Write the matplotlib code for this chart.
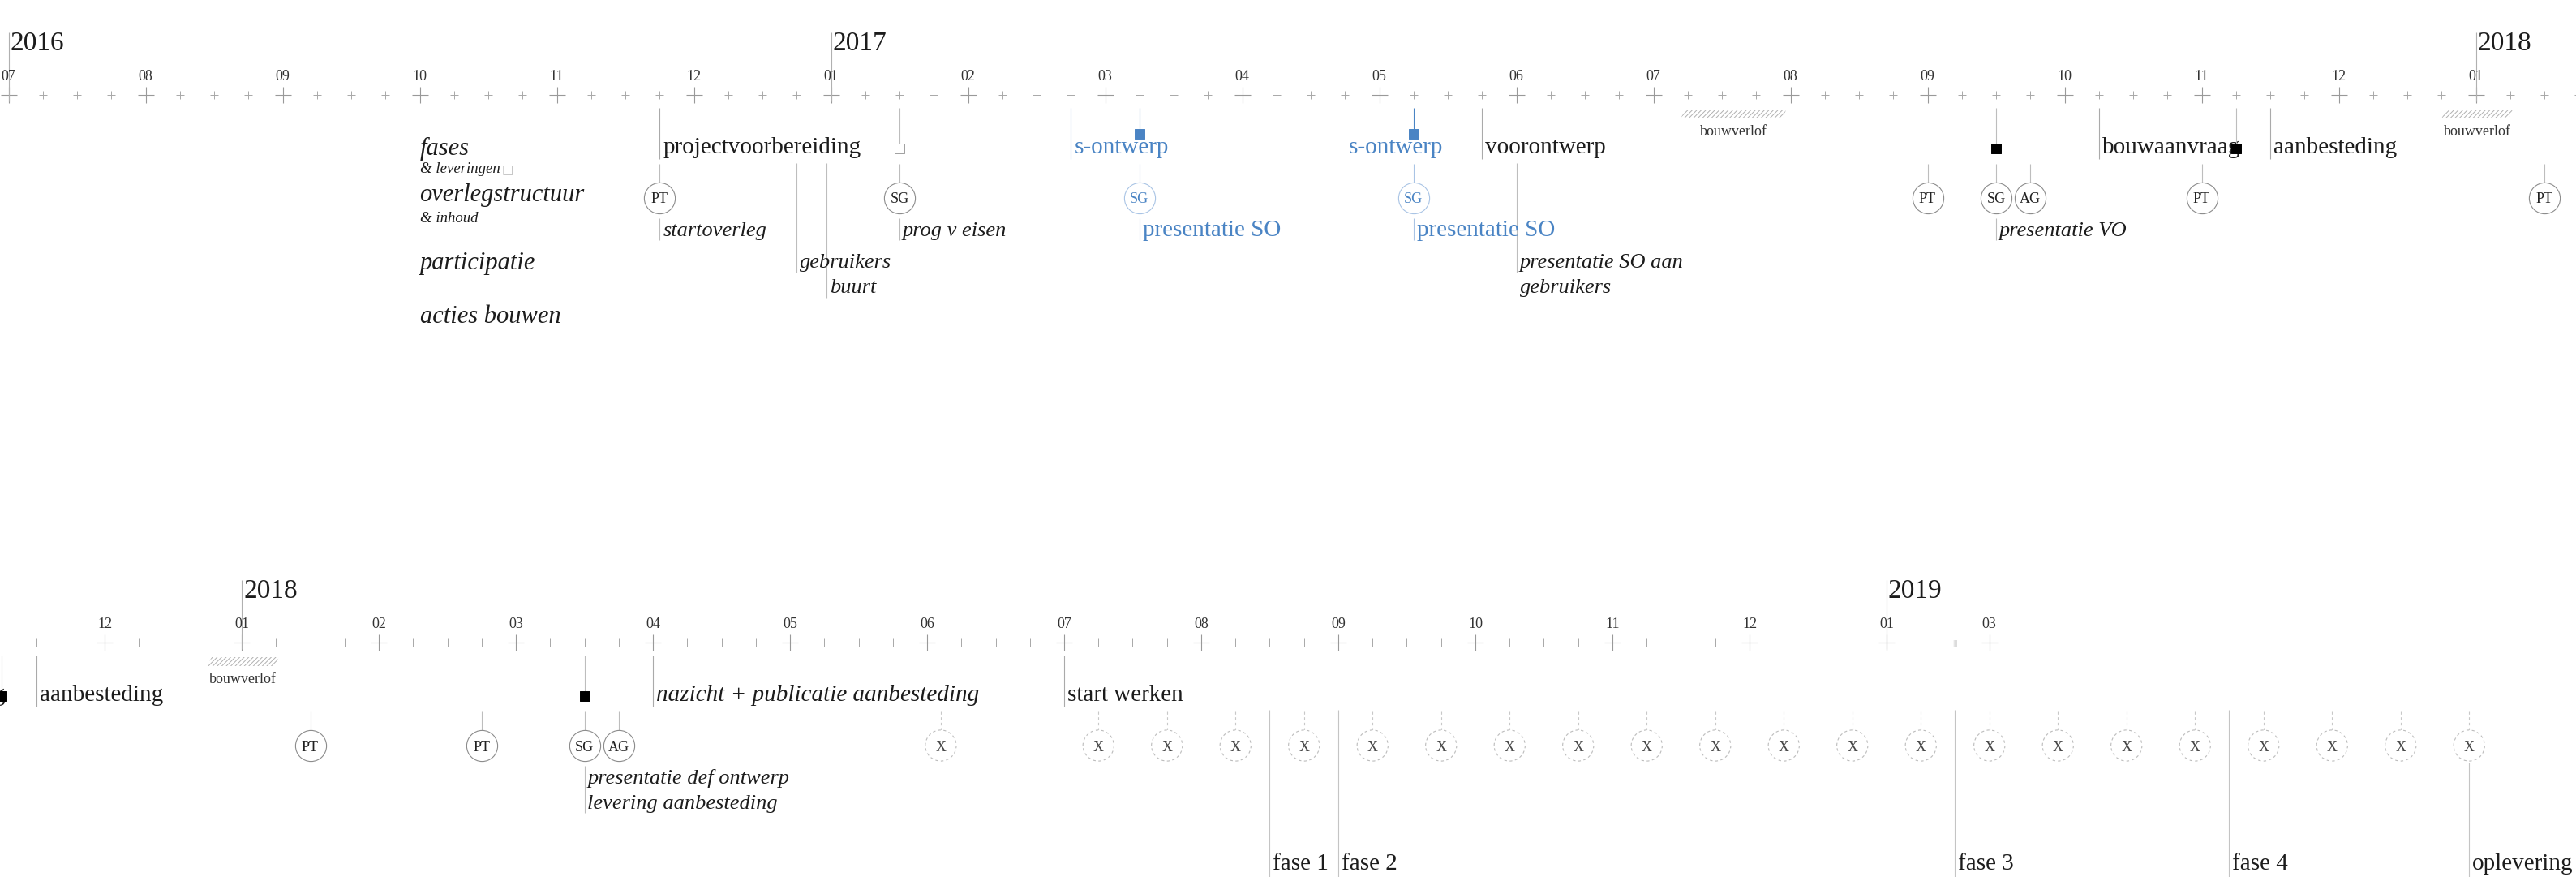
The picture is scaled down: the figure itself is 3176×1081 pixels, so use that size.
import matplotlib.pyplot as plt
from matplotlib.patches import Polygon

plt.rcParams['font.family'] = ['Liberation Serif', 'DejaVu Serif']
plt.rcParams['hatch.linewidth'] = 0.7

# position on the timeline in months, 0 = 2016-07 (0.25 = about one week)
month_pos = [0, 1, 2, 3, 4, 5, 6, 7, 8, 9, 10, 11, 12, 13, 14, 15, 16, 17, 18,
             19, 20, 21, 22, 23, 24, 25, 26, 27, 28, 29, 30, 30.75]
month_labels = ['07', '08', '09', '10', '11', '12',
                '01', '02', '03', '04', '05', '06', '07', '08', '09', '10', '11', '12',
                '01', '02', '03', '04', '05', '06', '07', '08', '09', '10', '11', '12',
                '01', '03']
year_pos = [0, 6, 18, 30]
years = ['2016', '2017', '2018', '2019']
axis_break = 30.5

categories = ['fases', 'overlegstructuur', 'participatie', 'acties bouwen']
category_sub = ['& leveringen', '& inhoud', '', '']
category_pos = 3

phase_pos = [4.75, 7.75, 9.75, 10.75, 15.25, 16.5, 21.0, 24.0]
phase_text = ['projectvoorbereiding', 's-ontwerp', 's-ontwerp', 'voorontwerp',
              'bouwaanvraag', 'aanbesteding', 'nazicht + publicatie aanbesteding',
              'start werken']
phase_group = ['', 'SO', 'SO-vervolg', '', '', '', 'extern', '']

deliv_pos = [6.5, 8.25, 10.25, 14.5, 16.25, 20.5]
deliv_group = ['open', 'SO', 'SO', '', '', '']

meet_pos = [4.75, 6.5, 8.25, 10.25, 14.0, 14.5, 14.75, 16.0, 18.5, 19.75, 20.5, 20.75]
meet_label = ['PT', 'SG', 'SG', 'SG', 'PT', 'SG', 'AG', 'PT', 'PT', 'PT', 'SG', 'AG']
meet_group = ['', '', 'SO', 'SO', '', '', '', '', '', '', '', '']

note_pos = [4.75, 6.5, 8.25, 10.25, 14.5, 20.5]
note_text = ['startoverleg', 'prog v eisen', 'presentatie SO', 'presentatie SO',
             'presentatie VO', 'presentatie def ontwerp\nlevering aanbesteding']
note_group = ['', '', 'SO', 'SO', '', '']

part_pos = [5.75, 5.97, 11.0]
part_text = ['gebruikers', 'buurt', 'presentatie SO aan\ngebruikers']
part_level = [0, 1, 0]

werf_pos = [23.1, 24.25, 24.75, 25.25, 25.75, 26.25, 26.75, 27.25, 27.75, 28.25, 28.75,
            29.25, 29.75, 30.25, 30.75, 31.25, 31.75, 32.25, 32.75, 33.25, 33.75, 34.25]

bouw_pos = [25.5, 26.0, 30.5, 32.5, 34.25]
bouw_text = ['fase 1', 'fase 2', 'fase 3', 'fase 4', 'oplevering']

verlof_start = [12.2, 17.75]
verlof_end = [12.97, 18.27]

# layout (pixels from the top of a row)
Y_YEAR, Y_MONTH, Y_TICK = 62, 99, 117
Y_TOP = 133
Y_PHASE = 189
Y_CIRCLE, R = 244, 19
Y_NOTE = 291
Y_PART = 330
LINE_H = 31
Y_BOUW = 397
BLUE = '#4a84c4'
LIGHTBLUE = '#a9c4e5'
LINE = '#bdbdbd'
INK = '#1c1c1c'


def label(ax, m, y, s, dx=4, **kw):
    kw.setdefault('color', INK)
    kw.setdefault('va', 'baseline')
    return ax.annotate(s, (m, y), xytext=(dx, 0), textcoords='offset pixels',
                       annotation_clip=False, **kw)


def vline(ax, m, y0, y1, color=LINE, **kw):
    ax.plot([m, m], [y0, y1], color=color, lw=0.8, solid_capstyle='butt', **kw)


def draw(ax):
    # time axis
    minor = [i / 4 for i in range(0, 122) if i % 4 and i / 4 != axis_break]
    ax.scatter(minor, [Y_TICK] * len(minor), marker='+', s=7 ** 2, c='#a8a8a8', linewidths=0.7)
    ax.scatter(month_pos, [Y_TICK] * len(month_pos), marker='+', s=15 ** 2, c='#999999', linewidths=0.8)
    for m, t in zip(month_pos, month_labels):
        label(ax, m, Y_MONTH, t, dx=0, ha='center', fontsize=13, color='#333333')
    label(ax, axis_break, Y_TICK + 4, '|||', dx=0, ha='center', fontsize=8, color='#bbbbbb')
    for m, t in zip(year_pos, years):
        vline(ax, m, 40, 125, color='#b0b0b0')
        label(ax, m, Y_YEAR, t, dx=2, fontsize=24)

    # left legend
    cat_y = [191, 248, 332, 398]
    for t, sub, y in zip(categories, category_sub, cat_y):
        label(ax, category_pos, y, t, dx=0, fontsize=22, style='italic')
        if sub:
            st = label(ax, category_pos, y + 22 if t == 'fases' else y + 26, sub, dx=0,
                       fontsize=13.5, style='italic')
            if t == 'fases':
                ax.annotate('\u25a1', (1, 0), xycoords=st, xytext=(2, 0), textcoords='offset points',
                            va='bottom', fontsize=11, color='#bdbdbd', family='DejaVu Sans')

    # bouwverlof
    sl = 5 / 169
    for a, b in zip(verlof_start, verlof_end):
        ax.add_patch(Polygon([(a, 146), (a + sl, 135), (b, 135), (b - sl, 146)], closed=True,
                             facecolor='white', edgecolor='#b0b0b0', lw=0, hatch='//////'))
        label(ax, (a + b) / 2, 167, 'bouwverlof', dx=0, ha='center', fontsize=13, color='#333333')

    # phases
    for m, t, g in zip(phase_pos, phase_text, phase_group):
        col = BLUE if g.startswith('SO') else INK
        if g != 'SO-vervolg':
            vline(ax, m, Y_TOP, 196, color='#8fb3df' if g == 'SO' else '#aaaaaa')
        label(ax, m, Y_PHASE, t, fontsize=21, color=col,
              style='italic' if g == 'extern' else 'normal', zorder=2)

    # deliverables
    for m, g in zip(deliv_pos, deliv_group):
        y = 165 if g == 'SO' else 183
        vline(ax, m, Y_TOP, y - 6, color=BLUE if g == 'SO' else LINE)
        fc = {'open': 'white', 'SO': BLUE}.get(g, 'black')
        ec = {'open': '#a0a0a0', 'SO': BLUE}.get(g, 'black')
        ax.scatter([m], [y], marker='s', s=9 ** 2, facecolors=fc, edgecolors=ec,
                   linewidths=0.7, zorder=4)

    # meetings
    for m, t, g in zip(meet_pos, meet_label, meet_group):
        lc = LIGHTBLUE if g else LINE
        vline(ax, m, 202, Y_CIRCLE - R, color=lc)
        ax.scatter([m], [Y_CIRCLE], s=27.5 ** 2, facecolors='white',
                   edgecolors=LIGHTBLUE if g else '#8c8c8c', linewidths=0.8, zorder=3)
        label(ax, m, Y_CIRCLE, t, dx=0, ha='center', va='center_baseline', fontsize=13,
              color=BLUE if g else '#222222', zorder=4)
    for m in werf_pos:
        vline(ax, m, 202, Y_CIRCLE - R, color='#c8c8c8', ls=(0, (3, 3)))
        ax.scatter([m], [Y_CIRCLE], s=27.5 ** 2, facecolors='white', edgecolors='#bcbcbc',
                   linewidths=0.8, linestyles=(0, (3, 3)), zorder=3)
        label(ax, m, Y_CIRCLE, 'X', dx=0, ha='center', va='center_baseline', fontsize=13,
              color='#444444', zorder=4)

    # notes under the meetings
    for m, t, g in zip(note_pos, note_text, note_group):
        rows = t.split('\n')
        vline(ax, m, 269, Y_NOTE + 5 + LINE_H * (len(rows) - 1), color=LIGHTBLUE if g else LINE)
        for i, r in enumerate(rows):
            if g:
                label(ax, m, Y_NOTE + LINE_H * i, r, fontsize=21, color=BLUE)
            else:
                label(ax, m, Y_NOTE + LINE_H * i, r, fontsize=19, style='italic')

    # participation
    for m, t, lv in zip(part_pos, part_text, part_level):
        vline(ax, m, 201, Y_PART + 6 + LINE_H * lv)
        for i, r in enumerate(t.split('\n')):
            label(ax, m, Y_PART + LINE_H * (lv + i), r, fontsize=19, style='italic')

    # building phases
    for m, t in zip(bouw_pos, bouw_text):
        start = Y_CIRCLE + R + 2 if t == 'oplevering' else 200
        vline(ax, m, start, 420, color='#c4c4c4')
        label(ax, m, Y_BOUW, t, fontsize=21)


fig = plt.figure(figsize=(31.76, 10.81), dpi=100)
fig.patch.set_facecolor('white')

ROW2 = 675
ax1 = fig.add_axes([0, 0, 1, 1])
ax1.set_xlim(-10.5 / 169, (3176 - 10.5) / 169)
ax1.set_ylim(1081, 0)
ax2 = fig.add_axes([0, 0, 1, 1])
ax2.set_xlim(2744 / 169, (3176 + 2744) / 169)
ax2.set_ylim(1081 - ROW2, -ROW2)
for ax in (ax1, ax2):
    ax.set_axis_off()
    ax.patch.set_alpha(0)
    draw(ax)

# both rows share one timeline; drop the texts that fall fully outside a row's window
fig.canvas.draw()
renderer = fig.canvas.get_renderer()
drop = []
for ax in (ax1, ax2):
    for t in ax.texts:
        bb = t.get_window_extent(renderer)
        if bb.x1 <= 0 or bb.x0 >= fig.bbox.width:
            drop.append(t)
for t in drop:
    t.remove()

fig.savefig('out.png', dpi=100, facecolor='white')
